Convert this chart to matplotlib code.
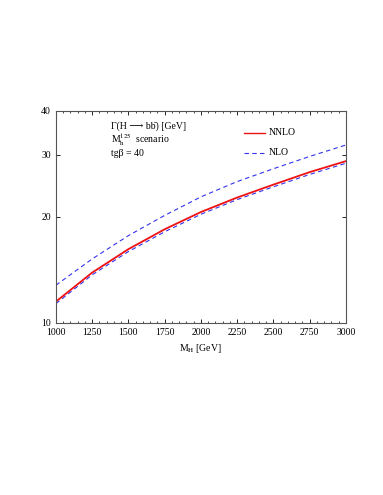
import numpy as np
import matplotlib
matplotlib.use("Agg")
import matplotlib.pyplot as plt
from matplotlib.ticker import FixedLocator, MultipleLocator, NullLocator

plt.rcParams["font.family"] = "Liberation Serif"
plt.rcParams["mathtext.fontset"] = "stix"

# values
mh = [1000, 1250, 1500, 1750, 2000, 2250, 2500, 2750, 3000]
nnlo = [11.5, 13.9, 16.2, 18.45, 20.65, 22.7, 24.7, 26.8, 28.8]
nlo_up = [12.8, 15.2, 17.7, 20.2, 22.8, 25.2, 27.4, 29.7, 32.0]
nlo_lo = [11.35, 13.7, 15.95, 18.15, 20.35, 22.4, 24.35, 26.4, 28.4]

fig = plt.figure(figsize=(3.83, 4.95), dpi=100)
ax = fig.add_axes([0.146, 0.3475, 0.757, 0.4285])

ax.plot(mh, nlo_up, color="#3333ee", lw=0.8, ls=(0, (4, 3)))
ax.plot(mh, nlo_lo, color="#3333ee", lw=0.8, ls=(0, (4, 3)))
ax.plot(mh, nnlo, color="#ee1111", lw=1.3)

ax.set_yscale("log")
ax.set_xlim(1000, 3000)
ax.set_ylim(10, 40)
ax.xaxis.set_major_locator(MultipleLocator(250))
ax.xaxis.set_minor_locator(MultipleLocator(50))
ax.yaxis.set_major_locator(FixedLocator([10, 20, 30, 40]))
ax.yaxis.set_minor_locator(NullLocator())
ax.set_yticklabels(["10", "20", "30", "40"])
ax.tick_params(direction="in", top=True, right=True, labelsize=7, length=3, width=0.6)
ax.tick_params(which="minor", direction="in", top=True, right=True, length=1.5, width=0.5)
for s in ax.spines.values():
    s.set_linewidth(0.8)
    s.set_color("#555555")
ax.set_xlabel(r"M$_\mathrm{H}$ [GeV]", fontsize=7)

ax.text(0.19, 0.926, "\u0393(H \u27f6 bb\u0304) [GeV]", transform=ax.transAxes,
        fontsize=7, va="center", family=["Liberation Serif", "DejaVu Serif"])
ax.text(0.19, 0.863, r"M$_\mathrm{h}^{125}$  scenario", transform=ax.transAxes,
        fontsize=7, va="center")
ax.text(0.19, 0.797, "tg\u03b2 = 40", transform=ax.transAxes, fontsize=7, va="center")

ax.plot([0.648, 0.721], [0.898, 0.898], transform=ax.transAxes, color="#ee1111", lw=1.0)
ax.text(0.734, 0.898, "NNLO", transform=ax.transAxes, fontsize=7, va="center")
ax.plot([0.648, 0.721], [0.803, 0.803], transform=ax.transAxes, color="#3333ee", lw=0.8,
        ls=(0, (4, 3)))
ax.text(0.734, 0.803, "NLO", transform=ax.transAxes, fontsize=7, va="center")

fig.savefig("out.png", dpi=100)
